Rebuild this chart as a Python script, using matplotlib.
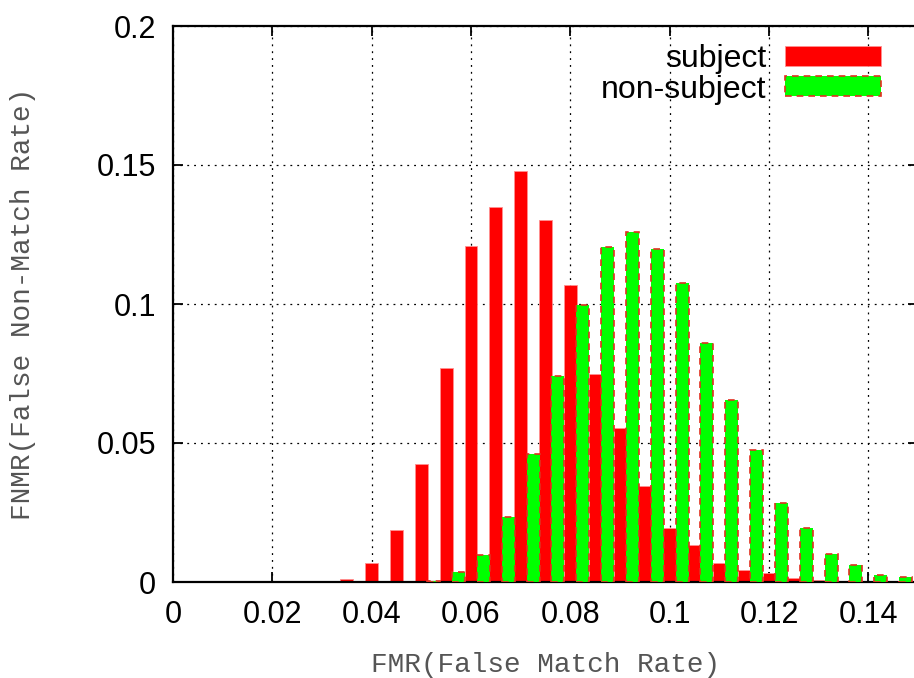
import matplotlib
matplotlib.use("Agg")
import matplotlib.pyplot as plt
from matplotlib.patches import Patch

# bin positions (FMR) and heights
subject_x = [0.035, 0.040, 0.045, 0.050, 0.055, 0.060, 0.065, 0.070, 0.075, 0.080,
             0.085, 0.090, 0.095, 0.100, 0.105, 0.110, 0.115, 0.120, 0.125, 0.130,
             0.135, 0.140]
subject_y = [0.0010, 0.0068, 0.0187, 0.0425, 0.0768, 0.1210, 0.1348, 0.1480, 0.1303, 0.1068,
             0.0750, 0.0555, 0.0346, 0.0195, 0.0133, 0.0068, 0.0043, 0.0032, 0.0014, 0.0008,
             0.0005, 0.0003]

nonsubject_x = [0.0525, 0.0575, 0.0625, 0.0675, 0.0725, 0.0775, 0.0825, 0.0875, 0.0925, 0.0975,
                0.1025, 0.1075, 0.1125, 0.1175, 0.1225, 0.1275, 0.1325, 0.1375, 0.1425, 0.1475]
nonsubject_y = [0.0005, 0.0036, 0.0097, 0.0234, 0.0460, 0.0740, 0.0998, 0.1204, 0.1258, 0.1197,
                0.1075, 0.0860, 0.0656, 0.0476, 0.0285, 0.0195, 0.0101, 0.0061, 0.0025, 0.0018]

xticks = [0, 0.02, 0.04, 0.06, 0.08, 0.1, 0.12, 0.14]
yticks = [0, 0.05, 0.1, 0.15, 0.2]

W, H = 914, 678
fig = plt.figure(figsize=(W / 100, H / 100), dpi=100)
ax = fig.add_axes([173 / W, (H - 582) / H, (918 - 173) / W, (582 - 26) / H])

bw = 0.0026
ax.bar(subject_x, subject_y, width=bw, color="#ff0000", edgecolor="#ff9090",
       linewidth=0.6, label="subject", zorder=2)
ax.bar(nonsubject_x, nonsubject_y, width=bw, color="#00ff00", edgecolor="#e03020",
       linewidth=1.2, linestyle=(0, (4, 3)), label="non-subject", zorder=3)

ax.set_xlim(0, 0.15)
ax.set_ylim(0, 0.2)
ax.set_xticks(xticks)
ax.set_xticklabels([f"{t:g}" for t in xticks])
ax.set_yticks(yticks)
ax.set_yticklabels([f"{t:g}" for t in yticks])

for lab in ax.get_xticklabels() + ax.get_yticklabels():
    lab.set_fontfamily("Liberation Sans")
    lab.set_fontsize(22)

ax.tick_params(direction="in", length=7, width=1.3, top=True, right=True, pad=13)
ax.tick_params(axis="y", pad=12)
for s in ax.spines.values():
    s.set_linewidth(1.6)

ax.set_axisbelow(True)
ax.grid(True, color="black", linestyle=(0, (1.5, 4)), linewidth=0.9)

label_font = {"family": "Liberation Mono", "size": 20, "color": "#555555"}
ax.set_xlabel("FMR(False Match Rate)", fontdict=label_font)
ax.set_ylabel("FNMR(False Non-Match Rate)", fontdict=label_font)
ax.xaxis.set_label_coords(0.5, -(652 - 582) / 556)
ax.yaxis.set_label_coords(-(173 - 36) / 745, 0.5)

handles = [Patch(facecolor="#ff0000", edgecolor="#ff9090", linewidth=0.6),
           Patch(facecolor="#00ff00", edgecolor="#e03020", linewidth=1.2, linestyle=(0, (4, 3)))]
ax.legend(handles, ["subject", "non-subject"], loc="upper right",
          bbox_to_anchor=(881 / W, 1 - 44 / H), bbox_transform=fig.transFigure,
          frameon=False, markerfirst=False, borderpad=0, borderaxespad=0,
          handlelength=3.0, handleheight=0.58, handletextpad=0.6, labelspacing=0.02,
          prop={"family": "Liberation Sans", "size": 23})

fig.savefig("out.png", dpi=100)
